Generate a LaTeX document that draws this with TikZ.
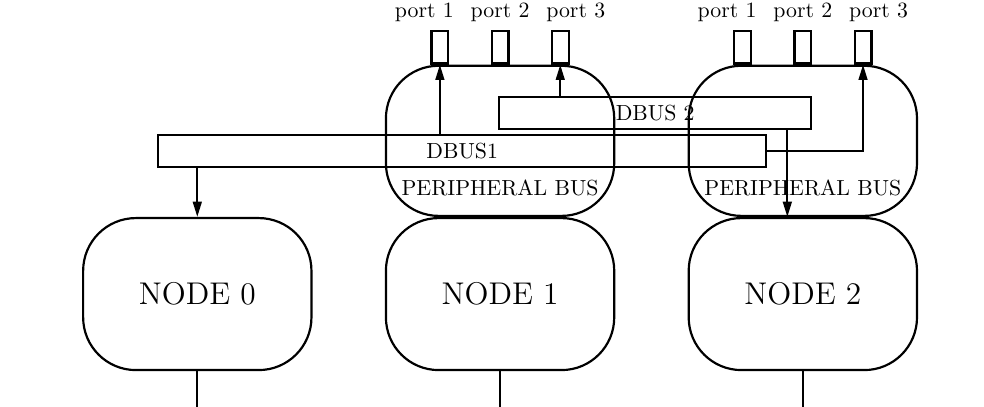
\documentclass[tikz,border=0pt]{standalone}
\usetikzlibrary{arrows.meta}
\begin{document}
\begin{tikzpicture}[line width=1pt, >={Triangle[length=7pt,width=4pt]},
	cpu/.style={draw, rounded corners=.85cm, minimum width=3.68cm, minimum height=2.45cm, inner sep=0pt, font=\Large},
	pbus/.style={draw, rounded corners=.85cm, minimum width=3.68cm, minimum height=2.42cm, inner sep=0pt, anchor=south},
	port/.style={draw, minimum width=.27cm, minimum height=.52cm, inner sep=0pt, anchor=south},
	dbus/.style={draw, minimum height=.51cm, inner sep=0pt}]
\useasboundingbox (0,0) rectangle (15.86,6.56);
\coordinate (floor) at (0,0);
% nodes
\node[cpu] (n0) at (3.18,1.82) {NODE 0};
\node[cpu] (n1) at (8.06,1.82) {NODE 1};
\node[cpu] (n2) at (12.94,1.82) {NODE 2};
\draw (n0.south) -- (n0.south |- floor);
\draw (n1.south) -- (n1.south |- floor);
\draw (n2.south) -- (n2.south |- floor);
% peripheral buses
\node[pbus] (pb1) at (n1.north) {};
\node[pbus] (pb2) at (n2.north) {};
\node[anchor=base] (pbl1) at ([yshift=.34cm]pb1.south) {PERIPHERAL BUS};
\node[anchor=base] (pbl2) at ([yshift=.34cm]pb2.south) {PERIPHERAL BUS};
% ports
\node[port] (p11) at ([xshift=-.97cm]pb1.north) {};
\node[port] (p12) at (pb1.north) {};
\node[port] (p13) at ([xshift=.97cm]pb1.north) {};
\node[port] (p21) at ([xshift=-.97cm]pb2.north) {};
\node[port] (p22) at (pb2.north) {};
\node[port] (p23) at ([xshift=.97cm]pb2.north) {};
\node[above] (l11) at ([xshift=-.25cm]p11.north) {port 1};
\node[above] (l12) at (p12.north) {port 2};
\node[above] (l13) at ([xshift=.25cm]p13.north) {port 3};
\node[above] (l21) at ([xshift=-.25cm]p21.north) {port 1};
\node[above] (l22) at (p22.north) {port 2};
\node[above] (l23) at ([xshift=.25cm]p23.north) {port 3};
% data buses
\node[dbus, minimum width=5.03cm] (db2) at (10.56,4.735) {DBUS 2};
\node[dbus, minimum width=9.80cm] (db1) at (7.45,4.124) {DBUS1};
\coordinate (n2in) at ([xshift=-.25cm]n2.north);
\draw[->] (n0 |- db1.south) -- (n0.north);
\draw[->] (p11 |- db1.north) -- (p11.south);
\draw[->] (p13 |- db2.north) -- (p13.south);
\draw[->] (db1.east) -| (p23.south);
\draw[->] (n2in |- db2.south) -- (n2in);
\end{tikzpicture}
\end{document}
